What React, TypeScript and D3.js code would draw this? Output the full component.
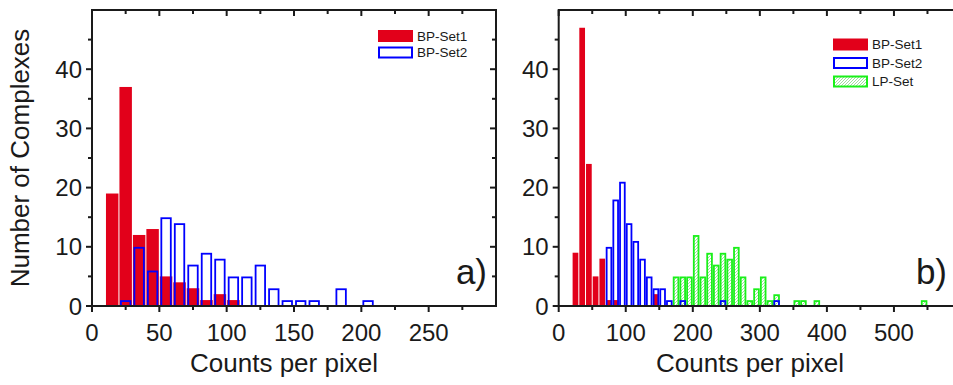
import React from "react";
import * as d3 from "d3";

// Histogram counts per 10-unit bin (bin start values and number of complexes)
const aRedBins = [10, 20, 30, 40, 50, 60, 70, 80, 90, 100];
const aRedCounts = [19, 37, 12, 13, 5, 4, 3, 1, 2, 1];
const aBlueBins = [20, 30, 40, 50, 60, 70, 80, 90, 100, 110, 120, 130, 140, 150, 160, 180, 200];
const aBlueCounts = [1, 10, 6, 15, 14, 7, 9, 8, 5, 5, 7, 3, 1, 1, 1, 3, 1];

const bRedBins = [20, 30, 40, 50, 60, 70, 80, 140];
const bRedCounts = [9, 47, 24, 5, 8, 1, 1, 2];
const bBlueBins = [70, 80, 90, 100, 110, 120, 130, 140, 150, 160, 180, 240, 320];
const bBlueCounts = [10, 18, 21, 14, 11, 8, 5, 3, 3, 1, 1, 1, 1];
const bGreenBins = [170, 180, 190, 200, 210, 220, 230, 240, 250, 260, 270, 280, 290, 300, 310, 320, 350, 360, 380, 540];
const bGreenCounts = [5, 5, 5, 12, 5, 9, 7, 9, 8, 10, 5, 1, 3, 5, 1, 2, 1, 1, 1, 1];

const binWidth = 10;

const yTicks = [0, 10, 20, 30, 40];
const yMinor = [5, 15, 25, 35, 45];
const aXTicks = [0, 50, 100, 150, 200, 250];
const aXMinor = [25, 75, 125, 175, 225, 275];
const bXTicks = [0, 100, 200, 300, 400, 500];
const bXMinor = [50, 150, 250, 350, 450, 550];

const seriesNames = ["BP-Set1", "BP-Set2", "LP-Set"];

const RED = "#e2001a";
const BLUE = "#0000ff";
const GREEN = "#19f019";
const AXIS = "#1a1a1a";
const FONT = "'Liberation Sans', Arial, sans-serif";

type PanelProps = {
  x0: number;
  x1: number;
  xMax: number;
  xTicks: number[];
  xMinor: number[];
  red: [number[], number[]];
  blue: [number[], number[]];
  green?: [number[], number[]];
  letter: string;
  letterX: number;
  labelX: number;
  legendX: number;
  legendY: number[];
  outlineInset: number;
};

const Y0 = 306;
const Y1 = 10;

function Panel(p: PanelProps) {
  const x = d3.scaleLinear().domain([0, p.xMax]).range([p.x0, p.x1]);
  const y = d3.scaleLinear().domain([0, 50]).range([Y0, Y1]);
  const bw = x(binWidth) - x(0);

  const outline = (bins: number[], counts: number[], color: string, fill: string, key: string) =>
    bins.map((b, i) => {
      const top = y(counts[i]);
      return (
        <rect
          key={key + i}
          x={x(b) + p.outlineInset}
          y={top + 1}
          width={bw - 2 * p.outlineInset}
          height={Y0 - top - 1}
          fill={fill}
          stroke={color}
          strokeWidth={1.8}
        />
      );
    });

  return (
    <g>
      {/* filled BP-Set1 bars */}
      {p.red[0].map((b, i) => (
        <rect
          key={"r" + i}
          x={x(b) + 0.5}
          y={y(p.red[1][i])}
          width={bw - 1}
          height={Y0 - y(p.red[1][i])}
          fill={RED}
        />
      ))}
      {p.green && outline(p.green[0], p.green[1], GREEN, "url(#hatch)", "g")}
      {outline(p.blue[0], p.blue[1], BLUE, "none", "b")}

      {/* frame */}
      <rect x={p.x0} y={Y1} width={p.x1 - p.x0} height={Y0 - Y1} fill="none" stroke={AXIS} strokeWidth={2} />

      {/* x ticks: bottom outward, top inward */}
      {p.xTicks.map((t) => (
        <g key={"xt" + t}>
          <line x1={x(t)} x2={x(t)} y1={Y0} y2={Y0 + 6} stroke={AXIS} strokeWidth={2} />
          <line x1={x(t)} x2={x(t)} y1={Y1} y2={Y1 + 6} stroke={AXIS} strokeWidth={2} />
          <text x={x(t)} y={341} textAnchor="middle" fontSize={24} fontFamily={FONT} fill={AXIS}>
            {t}
          </text>
        </g>
      ))}
      {p.xMinor.map((t) => (
        <g key={"xm" + t}>
          <line x1={x(t)} x2={x(t)} y1={Y0} y2={Y0 + 4} stroke={AXIS} strokeWidth={2} />
          <line x1={x(t)} x2={x(t)} y1={Y1} y2={Y1 + 4} stroke={AXIS} strokeWidth={2} />
        </g>
      ))}

      {/* y ticks: left outward, right inward */}
      {yTicks.map((t) => (
        <g key={"yt" + t}>
          <line x1={p.x0 - 6} x2={p.x0} y1={y(t)} y2={y(t)} stroke={AXIS} strokeWidth={2} />
          <line x1={p.x1 - 6} x2={p.x1} y1={y(t)} y2={y(t)} stroke={AXIS} strokeWidth={2} />
          <text
            x={p.x0 - 10}
            y={y(t)}
            dy="0.36em"
            textAnchor="end"
            fontSize={24}
            fontFamily={FONT}
            fill={AXIS}
          >
            {t}
          </text>
        </g>
      ))}
      {yMinor.map((t) => (
        <g key={"ym" + t}>
          <line x1={p.x0 - 4} x2={p.x0} y1={y(t)} y2={y(t)} stroke={AXIS} strokeWidth={2} />
          <line x1={p.x1 - 4} x2={p.x1} y1={y(t)} y2={y(t)} stroke={AXIS} strokeWidth={2} />
        </g>
      ))}

      <text x={p.labelX} y={372} textAnchor="middle" fontSize={26} fontFamily={FONT} fill={AXIS}>
        Counts per pixel
      </text>
      <text x={p.letterX} y={284} textAnchor="end" fontSize={35} fontFamily={FONT} fill={AXIS}>
        {p.letter}
      </text>

      {/* legend */}
      {p.legendY.map((ly, i) => (
        <g key={"lg" + i}>
          {i === 0 ? (
            <rect x={p.legendX} y={ly - 6} width={35} height={12} fill={RED} />
          ) : (
            <rect
              x={p.legendX + 1}
              y={ly - 5}
              width={33}
              height={10}
              fill={i === 2 ? "url(#hatch)" : "#fff"}
              stroke={i === 2 ? GREEN : BLUE}
              strokeWidth={2}
            />
          )}
          <text x={p.legendX + 39} y={ly} dy="0.36em" fontSize={13.5} fontFamily={FONT} fill={AXIS}>
            {seriesNames[i]}
          </text>
        </g>
      ))}
    </g>
  );
}

export default function App() {
  return (
    <svg
      width={953}
      height={385}
      style={{ position: "absolute", left: 0, top: 0, background: "#fff" }}
    >
      <defs>
        <pattern id="hatch" patternUnits="userSpaceOnUse" width={3} height={3}>
          <rect width={3} height={3} fill="#fff" />
          <path d="M-1,1 l2,-2 M0,3 l3,-3 M2,4 l2,-2" stroke="#9ee09e" strokeWidth={1} />
        </pattern>
      </defs>
      <Panel
        x0={92}
        x1={496}
        xMax={300}
        xTicks={aXTicks}
        xMinor={aXMinor}
        red={[aRedBins, aRedCounts]}
        blue={[aBlueBins, aBlueCounts]}
        letter="a)"
        letterX={487}
        labelX={284}
        legendX={378}
        legendY={[36, 52.5]}
        outlineInset={2}
      />
      <Panel
        x0={558.7}
        x1={961}
        xMax={600}
        xTicks={bXTicks}
        xMinor={bXMinor}
        red={[bRedBins, bRedCounts]}
        blue={[bBlueBins, bBlueCounts]}
        green={[bGreenBins, bGreenCounts]}
        letter="b)"
        letterX={947}
        labelX={750}
        legendX={833}
        legendY={[44.5, 63, 81.5]}
        outlineInset={1}
      />
      <text
        transform="translate(29,158) rotate(-90)"
        textAnchor="middle"
        fontSize={26}
        fontFamily={FONT}
        fill={AXIS}
      >
        Number of Complexes
      </text>
    </svg>
  );
}
